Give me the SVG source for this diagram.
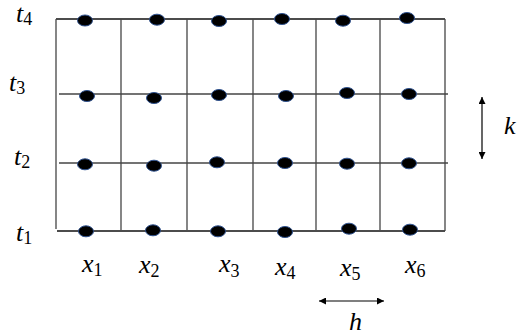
<svg xmlns="http://www.w3.org/2000/svg" width="517" height="335" viewBox="0 0 517 335">
<defs>
<marker id="ah" viewBox="0 0 10 10" refX="10" refY="5" markerWidth="7" markerHeight="7" markerUnits="userSpaceOnUse" orient="auto-start-reverse">
<path d="M0,0 L10,5 L0,10 z" fill="#000"/>
</marker>
</defs>
<style>
.g{stroke:#444;stroke-width:1.3;fill:none}
.gb{stroke:#111;stroke-width:1.3;fill:none}
.d{fill:#000;stroke:#2F528F;stroke-width:1}
.m{font-family:"Liberation Serif","DejaVu Serif",serif;font-style:italic;font-size:26px;fill:#000}
.s{font-style:normal;font-size:18px}
.a{stroke:#000;stroke-width:1.2;fill:none}
</style>
<rect width="517" height="335" fill="#fff"/>
<g id="connectors">
<line class="gb" x1="56" y1="19" x2="445" y2="19"/>
<line class="g" x1="59" y1="94" x2="448" y2="94"/>
<line class="g" x1="59" y1="163" x2="448" y2="163"/>
<line class="gb" x1="57" y1="231" x2="445" y2="231"/>
<line class="g" x1="56" y1="19" x2="56" y2="229"/>
<line class="g" x1="121" y1="19" x2="121" y2="230"/>
<line class="g" x1="187" y1="19" x2="187" y2="230"/>
<line class="g" x1="253" y1="19" x2="253" y2="230"/>
<line class="g" x1="316" y1="19" x2="316" y2="230"/>
<line class="g" x1="380" y1="19" x2="380" y2="230"/>
<line class="g" x1="445" y1="19" x2="445" y2="231"/>
<line class="a" x1="482" y1="97" x2="482" y2="159" marker-start="url(#ah)" marker-end="url(#ah)"/>
<line class="a" x1="319" y1="301" x2="384" y2="301" marker-start="url(#ah)" marker-end="url(#ah)"/>
</g>
<g id="nodes">
<g id="r4">
<ellipse class="d" cx="85" cy="20.5" rx="7.5" ry="5.5"/>
<ellipse class="d" cx="157" cy="19.7" rx="7.5" ry="5.5"/>
<ellipse class="d" cx="219" cy="21" rx="7.5" ry="5.5"/>
<ellipse class="d" cx="282" cy="19" rx="7.5" ry="5.5"/>
<ellipse class="d" cx="343" cy="20.7" rx="7.5" ry="5.5"/>
<ellipse class="d" cx="407" cy="18" rx="7.5" ry="5.5"/>
</g>
<g id="r3">
<ellipse class="d" cx="87" cy="96" rx="7.5" ry="5.5"/>
<ellipse class="d" cx="154" cy="98" rx="7.5" ry="5.5"/>
<ellipse class="d" cx="219" cy="95" rx="7.5" ry="5.5"/>
<ellipse class="d" cx="286" cy="96" rx="7.5" ry="5.5"/>
<ellipse class="d" cx="347" cy="93" rx="7.5" ry="5.5"/>
<ellipse class="d" cx="409" cy="94" rx="7.5" ry="5.5"/>
</g>
<g id="r2">
<ellipse class="d" cx="85" cy="164.3" rx="7.5" ry="5.5"/>
<ellipse class="d" cx="154" cy="165.7" rx="7.5" ry="5.5"/>
<ellipse class="d" cx="217" cy="162.3" rx="7.5" ry="5.5"/>
<ellipse class="d" cx="285" cy="163" rx="7.5" ry="5.5"/>
<ellipse class="d" cx="347" cy="163.7" rx="7.5" ry="5.5"/>
<ellipse class="d" cx="409" cy="163.3" rx="7.5" ry="5.5"/>
</g>
<g id="r1">
<ellipse class="d" cx="86" cy="231.3" rx="7.5" ry="5.5"/>
<ellipse class="d" cx="153" cy="230.3" rx="7.5" ry="5.5"/>
<ellipse class="d" cx="218" cy="231.3" rx="7.5" ry="5.5"/>
<ellipse class="d" cx="285" cy="232" rx="7.5" ry="5.5"/>
<ellipse class="d" cx="349" cy="228.7" rx="7.5" ry="5.5"/>
<ellipse class="d" cx="410" cy="229.7" rx="7.5" ry="5.5"/>
</g>
</g>
<g id="labels">
<text class="m" x="16" y="22">t<tspan class="s" dy="3">4</tspan></text>
<text class="m" x="9" y="91">t<tspan class="s" dy="3">3</tspan></text>
<text class="m" x="14" y="165">t<tspan class="s" dy="3">2</tspan></text>
<text class="m" x="16" y="241">t<tspan class="s" dy="3">1</tspan></text>
<text class="m" x="82" y="272">x<tspan class="s" dy="4">1</tspan></text>
<text class="m" x="139" y="273">x<tspan class="s" dy="4">2</tspan></text>
<text class="m" x="219" y="272">x<tspan class="s" dy="5">3</tspan></text>
<text class="m" x="275" y="275">x<tspan class="s" dy="4">4</tspan></text>
<text class="m" x="340" y="276">x<tspan class="s" dy="4">5</tspan></text>
<text class="m" x="405" y="273">x<tspan class="s" dy="4">6</tspan></text>
<text class="m" x="504" y="134">k</text>
<text class="m" x="349" y="330">h</text>
</g>
</svg>
